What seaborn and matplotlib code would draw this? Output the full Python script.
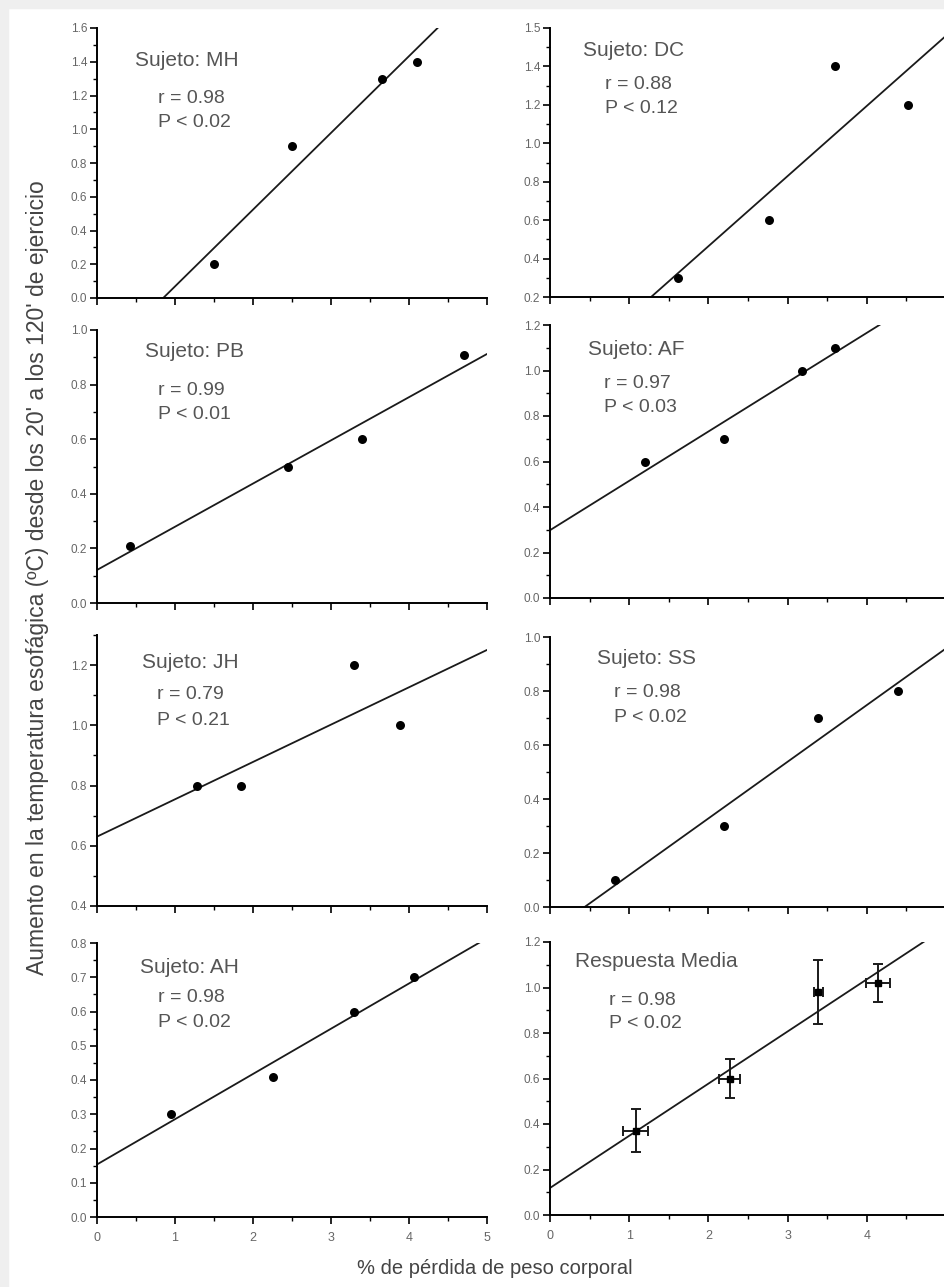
import numpy as np
import matplotlib
matplotlib.use("Agg")
import matplotlib.pyplot as plt
import seaborn as sns
from matplotlib.ticker import MultipleLocator, FixedLocator, FixedFormatter
from matplotlib.patches import Rectangle

# values (x = % body weight lost, y = rise in temp)
mh_x = [1.5, 2.5, 3.65, 4.1]
mh_y = [0.2, 0.9, 1.3, 1.4]
dc_x = [1.62, 2.76, 3.6, 4.52]
dc_y = [0.3, 0.6, 1.4, 1.2]
pb_x = [0.42, 2.45, 3.4, 4.7]
pb_y = [0.21, 0.5, 0.6, 0.91]
af_x = [1.2, 2.2, 3.18, 3.6]
af_y = [0.6, 0.7, 1.0, 1.1]
jh_x = [1.28, 1.85, 3.3, 3.88]
jh_y = [0.8, 0.8, 1.2, 1.0]
ss_x = [0.82, 2.2, 3.38, 4.4]
ss_y = [0.1, 0.3, 0.7, 0.8]
ah_x = [0.95, 2.25, 3.3, 4.07]
ah_y = [0.3, 0.41, 0.6, 0.7]
mean_x = [1.08, 2.27, 3.39, 4.14]
mean_y = [0.37, 0.6, 0.98, 1.02]
mean_xerr = [0.16, 0.13, 0.06, 0.15]
mean_yerr = [0.095, 0.085, 0.14, 0.085]

titles = ["Sujeto: MH", "Sujeto: DC", "Sujeto: PB", "Sujeto: AF",
          "Sujeto: JH", "Sujeto: SS", "Sujeto: AH", "Respuesta Media"]
r_texts = ["r = 0.98", "r = 0.88", "r = 0.99", "r = 0.97",
           "r = 0.79", "r = 0.98", "r = 0.98", "r = 0.98"]
p_texts = ["P < 0.02", "P < 0.12", "P < 0.01", "P < 0.03",
           "P < 0.21", "P < 0.02", "P < 0.02", "P < 0.02"]

y_ticks = [
    [0.0, 0.2, 0.4, 0.6, 0.8, 1.0, 1.2, 1.4, 1.6],
    [0.2, 0.4, 0.6, 0.8, 1.0, 1.2, 1.4, 1.6],
    [0.0, 0.2, 0.4, 0.6, 0.8, 1.0],
    [0.0, 0.2, 0.4, 0.6, 0.8, 1.0, 1.2],
    [0.4, 0.6, 0.8, 1.0, 1.2],
    [0.0, 0.2, 0.4, 0.6, 0.8, 1.0],
    [0.0, 0.1, 0.2, 0.3, 0.4, 0.5, 0.6, 0.7, 0.8],
    [0.0, 0.2, 0.4, 0.6, 0.8, 1.0, 1.2],
]
y_ticklabels = [
    ["0.0", "0.2", "0.4", "0.6", "0.8", "1.0", "1.2", "1.4", "1.6"],
    ["0.2", "0.4", "0.6", "0.8", "1.0", "1.2", "1.4", "1.5"],
    ["0.0", "0.2", "0.4", "0.6", "0.8", "1.0"],
    ["0.0", "0.2", "0.4", "0.6", "0.8", "1.0", "1.2"],
    ["0.4", "0.6", "0.8", "1.0", "1.2"],
    ["0.0", "0.2", "0.4", "0.6", "0.8", "1.0"],
    ["0.0", "0.1", "0.2", "0.3", "0.4", "0.5", "0.6", "0.7", "0.8"],
    ["0.0", "0.2", "0.4", "0.6", "0.8", "1.0", "1.2"],
]
x_ticks = [0, 1, 2, 3, 4, 5]
x_ticklabels_left = ["0", "1", "2", "3", "4", "5"]
x_ticklabels_right = ["0", "1", "2", "3", "4", ""]  # "5" falls off the page

xs = [mh_x, dc_x, pb_x, af_x, jh_x, ss_x, ah_x, mean_x]
ys = [mh_y, dc_y, pb_y, af_y, jh_y, ss_y, ah_y, mean_y]

# layout in pixels: left, top, right, bottom
W, H = 944, 1287
boxes = [
    (97, 28, 487, 298), (550, 28, 946, 297),
    (97, 330, 487, 603), (550, 325, 946, 598),
    (97, 635, 487, 906), (550, 637, 946, 907),
    (97, 943, 487, 1217), (550, 942, 946, 1215),
]
ylims = [(0, 1.6), (0.2, 1.6), (0, 1.0), (0, 1.2),
         (0.4, 1.3), (0, 1.0), (0, 0.8), (0, 1.2)]
y_minor = [0.1, 0.1, 0.1, 0.1, 0.1, 0.1, 0.05, 0.1]
text_pos = [
    (0.097, 0.88, 0.156, 0.74, 0.65),
    (0.084, 0.915, 0.14, 0.79, 0.70),
    (0.123, 0.92, 0.156, 0.78, 0.69),
    (0.096, 0.91, 0.137, 0.784, 0.696),
    (0.115, 0.90, 0.154, 0.78, 0.686),
    (0.119, 0.92, 0.162, 0.793, 0.70),
    (0.110, 0.91, 0.156, 0.80, 0.71),
    (0.063, 0.927, 0.149, 0.784, 0.70),
]

sns.set_style("ticks")
plt.rcParams['font.family'] = ['Liberation Sans', 'DejaVu Sans']

fig = plt.figure(figsize=(W / 100, H / 100), dpi=100)
fig.patch.set_facecolor("white")
# scanned page border
fig.patches.append(Rectangle((0, 1 - 8 / H), 1, 8 / H, transform=fig.transFigure,
                             color="#efefef", zorder=0))
fig.patches.append(Rectangle((0, 0), 8 / W, 1, transform=fig.transFigure,
                             color="#efefef", zorder=0))

for i in range(8):
    l, t, r, b = boxes[i]
    ax = fig.add_axes([l / W, 1 - b / H, (r - l) / W, (b - t) / H])
    ax.set_facecolor("none")
    ax.set_xlim(0, 5)
    ax.set_ylim(*ylims[i])

    sns.regplot(x=np.array(xs[i]), y=np.array(ys[i]), ax=ax, ci=None,
                truncate=False, scatter=False,
                line_kws=dict(color="#1a1a1a", lw=1.3))
    if i == 7:
        ax.errorbar(mean_x, mean_y, xerr=mean_xerr, yerr=mean_yerr, fmt="s",
                    ms=5, color="black", ecolor="#1a1a1a", elinewidth=1.4,
                    capsize=3.5, capthick=1.4, zorder=3)
    else:
        sns.scatterplot(x=xs[i], y=ys[i], ax=ax, color="black", s=42,
                        linewidth=0, zorder=3)

    ax.set_xlim(0, 5)
    ax.set_ylim(*ylims[i])
    sns.despine(ax=ax)
    for sp in ["left", "bottom"]:
        ax.spines[sp].set_linewidth(1.4)
        ax.spines[sp].set_color("black")

    ax.xaxis.set_major_locator(FixedLocator(x_ticks))
    ax.xaxis.set_major_formatter(FixedFormatter(
        x_ticklabels_left if i % 2 == 0 else x_ticklabels_right))
    ax.xaxis.set_minor_locator(MultipleLocator(0.5))
    ax.yaxis.set_major_locator(FixedLocator(y_ticks[i]))
    ax.yaxis.set_major_formatter(FixedFormatter(y_ticklabels[i]))
    ax.yaxis.set_minor_locator(MultipleLocator(y_minor[i]))
    ax.tick_params(which="major", direction="out", length=5, width=1.2,
                   color="black", labelsize=8.5, labelcolor="#666666", pad=2)
    ax.tick_params(which="minor", direction="out", length=3, width=1.0,
                   color="black")
    if i < 6:
        ax.tick_params(labelbottom=False)
    else:
        ax.tick_params(axis="x", labelsize=9, pad=6)

    tx, ty, rx, ry, py = text_pos[i]
    ax.text(tx, ty, titles[i], transform=ax.transAxes, ha="left", va="center",
            fontsize=15, color="#555555")
    ax.text(rx, ry, r_texts[i], transform=ax.transAxes, ha="left", va="center",
            fontsize=14, color="#555555")
    ax.text(rx, py, p_texts[i], transform=ax.transAxes, ha="left", va="center",
            fontsize=14, color="#555555")

fig.text(38 / W, 1 - 578 / H,
         "Aumento en la temperatura esofágica (ºC) desde los 20' a los 120' de ejercicio",
         rotation=90, ha="center", va="center", fontsize=16.5, color="#444444")
fig.text(495 / W, 1 - 1268 / H, "% de pérdida de peso corporal",
         ha="center", va="center", fontsize=14.5, color="#444444")

fig.savefig("out.png", dpi=100)
